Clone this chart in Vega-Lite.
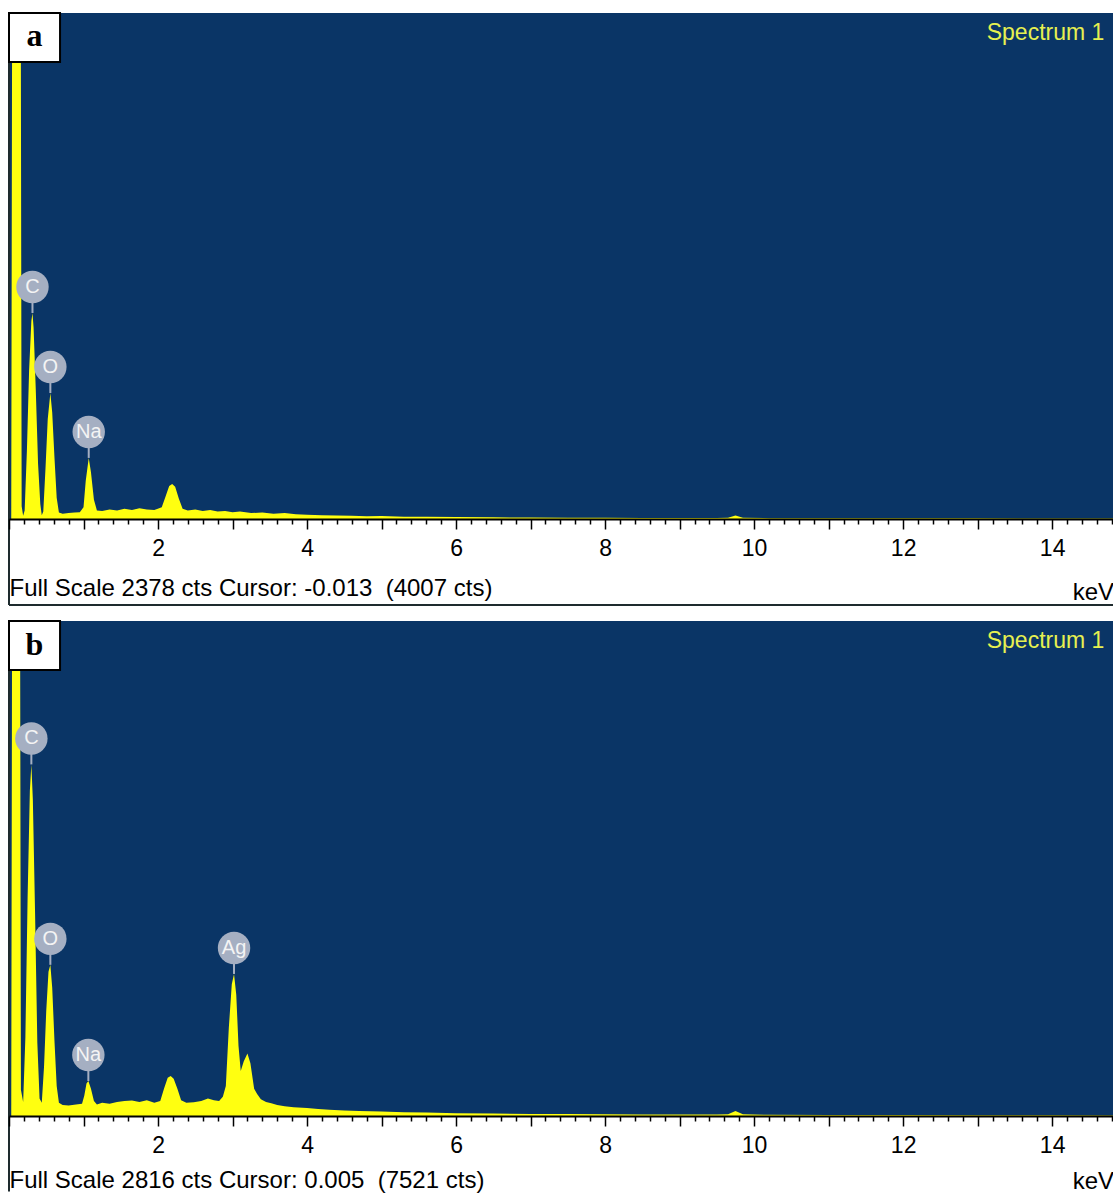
{
  "$schema": "https://vega.github.io/schema/vega-lite/v6.json",
  "padding": {"left": 8, "top": 12, "right": 0, "bottom": 0},
  "background": "white",
  "bounds": "flush",
  "spacing": 102,
  "config": {"view": {"fill": "#0A3566", "stroke": null}, "font": "Liberation Sans"},
  "datasets": {
    "specA": [
      {"keV": 0, "cts": 0}, {"keV": 0.03, "cts": 0}, {"keV": 0.05, "cts": 4000}, {"keV": 0.15, "cts": 4000},
      {"keV": 0.17, "cts": 60}, {"keV": 0.19, "cts": 15}, {"keV": 0.21, "cts": 40}, {"keV": 0.24, "cts": 320},
      {"keV": 0.27, "cts": 700}, {"keV": 0.3, "cts": 930}, {"keV": 0.315, "cts": 968}, {"keV": 0.33, "cts": 900},
      {"keV": 0.36, "cts": 600}, {"keV": 0.39, "cts": 260}, {"keV": 0.42, "cts": 70}, {"keV": 0.44, "cts": 18},
      {"keV": 0.46, "cts": 35}, {"keV": 0.49, "cts": 240}, {"keV": 0.52, "cts": 470}, {"keV": 0.555, "cts": 592},
      {"keV": 0.58, "cts": 500}, {"keV": 0.61, "cts": 290}, {"keV": 0.64, "cts": 100}, {"keV": 0.67, "cts": 30},
      {"keV": 0.72, "cts": 25}, {"keV": 0.8, "cts": 28}, {"keV": 0.88, "cts": 30}, {"keV": 0.95, "cts": 32},
      {"keV": 1.0, "cts": 55}, {"keV": 1.03, "cts": 180}, {"keV": 1.07, "cts": 287}, {"keV": 1.1, "cts": 220},
      {"keV": 1.14, "cts": 90}, {"keV": 1.18, "cts": 40}, {"keV": 1.25, "cts": 38}, {"keV": 1.35, "cts": 45},
      {"keV": 1.45, "cts": 40}, {"keV": 1.55, "cts": 48}, {"keV": 1.65, "cts": 42}, {"keV": 1.75, "cts": 50},
      {"keV": 1.85, "cts": 45}, {"keV": 1.95, "cts": 42}, {"keV": 2.05, "cts": 55}, {"keV": 2.1, "cts": 105},
      {"keV": 2.15, "cts": 155}, {"keV": 2.19, "cts": 165}, {"keV": 2.23, "cts": 152}, {"keV": 2.28, "cts": 95},
      {"keV": 2.33, "cts": 48}, {"keV": 2.4, "cts": 40}, {"keV": 2.5, "cts": 45}, {"keV": 2.6, "cts": 38},
      {"keV": 2.7, "cts": 42}, {"keV": 2.8, "cts": 35}, {"keV": 2.9, "cts": 38}, {"keV": 3.0, "cts": 32},
      {"keV": 3.1, "cts": 35}, {"keV": 3.25, "cts": 28}, {"keV": 3.4, "cts": 30}, {"keV": 3.55, "cts": 25},
      {"keV": 3.7, "cts": 28}, {"keV": 3.85, "cts": 22}, {"keV": 4.0, "cts": 20}, {"keV": 4.2, "cts": 18},
      {"keV": 4.4, "cts": 16}, {"keV": 4.6, "cts": 15}, {"keV": 4.8, "cts": 13}, {"keV": 5.0, "cts": 14},
      {"keV": 5.3, "cts": 11}, {"keV": 5.6, "cts": 10}, {"keV": 6.0, "cts": 9}, {"keV": 6.5, "cts": 8},
      {"keV": 7.0, "cts": 7}, {"keV": 7.5, "cts": 6}, {"keV": 8.0, "cts": 6}, {"keV": 8.5, "cts": 5},
      {"keV": 9.0, "cts": 5}, {"keV": 9.5, "cts": 5}, {"keV": 9.65, "cts": 6}, {"keV": 9.75, "cts": 16},
      {"keV": 9.85, "cts": 6}, {"keV": 10.2, "cts": 4}, {"keV": 11, "cts": 4}, {"keV": 12, "cts": 3},
      {"keV": 13, "cts": 3}, {"keV": 14, "cts": 2}, {"keV": 14.83, "cts": 2}
    ],
    "specB": [
      {"keV": 0, "cts": 0}, {"keV": 0.03, "cts": 0}, {"keV": 0.05, "cts": 5000}, {"keV": 0.14, "cts": 5000},
      {"keV": 0.16, "cts": 150}, {"keV": 0.19, "cts": 80}, {"keV": 0.22, "cts": 450}, {"keV": 0.25, "cts": 1250},
      {"keV": 0.28, "cts": 1850}, {"keV": 0.3, "cts": 2000}, {"keV": 0.32, "cts": 1800}, {"keV": 0.35, "cts": 1150},
      {"keV": 0.38, "cts": 420}, {"keV": 0.41, "cts": 100}, {"keV": 0.44, "cts": 75}, {"keV": 0.47, "cts": 280},
      {"keV": 0.5, "cts": 600}, {"keV": 0.53, "cts": 820}, {"keV": 0.555, "cts": 860}, {"keV": 0.58, "cts": 730},
      {"keV": 0.61, "cts": 430}, {"keV": 0.64, "cts": 170}, {"keV": 0.67, "cts": 75}, {"keV": 0.72, "cts": 62},
      {"keV": 0.8, "cts": 60}, {"keV": 0.9, "cts": 65}, {"keV": 0.98, "cts": 70}, {"keV": 1.01, "cts": 115},
      {"keV": 1.04, "cts": 185}, {"keV": 1.065, "cts": 199}, {"keV": 1.1, "cts": 155}, {"keV": 1.14, "cts": 85},
      {"keV": 1.18, "cts": 65}, {"keV": 1.25, "cts": 75}, {"keV": 1.35, "cts": 70}, {"keV": 1.45, "cts": 80},
      {"keV": 1.55, "cts": 85}, {"keV": 1.65, "cts": 88}, {"keV": 1.75, "cts": 80}, {"keV": 1.85, "cts": 90},
      {"keV": 1.95, "cts": 75}, {"keV": 2.03, "cts": 85}, {"keV": 2.08, "cts": 155}, {"keV": 2.13, "cts": 218},
      {"keV": 2.17, "cts": 228}, {"keV": 2.21, "cts": 212}, {"keV": 2.26, "cts": 155}, {"keV": 2.31, "cts": 90},
      {"keV": 2.38, "cts": 75}, {"keV": 2.48, "cts": 78}, {"keV": 2.58, "cts": 85}, {"keV": 2.67, "cts": 100},
      {"keV": 2.75, "cts": 90}, {"keV": 2.82, "cts": 85}, {"keV": 2.87, "cts": 110}, {"keV": 2.91, "cts": 170},
      {"keV": 2.95, "cts": 500}, {"keV": 2.99, "cts": 750}, {"keV": 3.02, "cts": 808}, {"keV": 3.05, "cts": 690},
      {"keV": 3.08, "cts": 400}, {"keV": 3.11, "cts": 256}, {"keV": 3.15, "cts": 310}, {"keV": 3.2, "cts": 355},
      {"keV": 3.24, "cts": 300}, {"keV": 3.29, "cts": 155}, {"keV": 3.33, "cts": 125}, {"keV": 3.38, "cts": 95},
      {"keV": 3.45, "cts": 80}, {"keV": 3.52, "cts": 72}, {"keV": 3.6, "cts": 62}, {"keV": 3.7, "cts": 55},
      {"keV": 3.82, "cts": 50}, {"keV": 4.0, "cts": 45}, {"keV": 4.15, "cts": 40}, {"keV": 4.3, "cts": 35},
      {"keV": 4.5, "cts": 32}, {"keV": 4.7, "cts": 28}, {"keV": 5.0, "cts": 25}, {"keV": 5.3, "cts": 22},
      {"keV": 5.6, "cts": 20}, {"keV": 6.0, "cts": 16}, {"keV": 6.5, "cts": 14}, {"keV": 7.0, "cts": 12},
      {"keV": 7.5, "cts": 11}, {"keV": 8.0, "cts": 10}, {"keV": 8.5, "cts": 9}, {"keV": 9.0, "cts": 8},
      {"keV": 9.5, "cts": 8}, {"keV": 9.65, "cts": 10}, {"keV": 9.75, "cts": 28}, {"keV": 9.85, "cts": 10},
      {"keV": 10.2, "cts": 7}, {"keV": 11, "cts": 6}, {"keV": 12, "cts": 5}, {"keV": 13, "cts": 4},
      {"keV": 14, "cts": 4}, {"keV": 14.83, "cts": 3}
    ],
    "peaksA": [
      {"el": "C", "keV": 0.315, "cts": 968},
      {"el": "O", "keV": 0.555, "cts": 592},
      {"el": "Na", "keV": 1.07, "cts": 287}
    ],
    "peaksB": [
      {"el": "C", "keV": 0.3, "cts": 2000},
      {"el": "O", "keV": 0.555, "cts": 860},
      {"el": "Na", "keV": 1.065, "cts": 199},
      {"el": "Ag", "keV": 3.02, "cts": 808}
    ]
  },
  "vconcat": [
    {
      "width": 1105,
      "height": 506,
      "layer": [
        {
          "data": {"name": "specA"},
          "mark": {"type": "area", "color": "#FFFF10", "clip": true, "interpolate": "linear"},
          "encoding": {
            "x": {"field": "keV", "type": "quantitative", "scale": {"domain": [0, 14.83], "nice": false, "zero": false},
              "axis": {
                "values": [0,0.2,0.4,0.6,0.8,1,1.2,1.4,1.6,1.8,2,2.2,2.4,2.6,2.8,3,3.2,3.4,3.6,3.8,4,4.2,4.4,4.6,4.8,5,5.2,5.4,5.6,5.8,6,6.2,6.4,6.6,6.8,7,7.2,7.4,7.6,7.8,8,8.2,8.4,8.6,8.8,9,9.2,9.4,9.6,9.8,10,10.2,10.4,10.6,10.8,11,11.2,11.4,11.6,11.8,12,12.2,12.4,12.6,12.8,13,13.2,13.4,13.6,13.8,14,14.2,14.4,14.6,14.8],
                "tickCount": 100,
                "title": "Full Scale 2378 cts Cursor: -0.013 \u00a0(4007 cts)", "titleX": 0, "titleY": 76, "titleAlign": "left", "titleBaseline": "alphabetic", "titleAngle": 0,
                "titleFontSize": 24, "titleFontWeight": "normal", "titleFont": "Liberation Sans", "titleColor": "#000000",
                "labelExpr": "abs(datum.value - round(datum.value)) < 0.01 && round(datum.value) % 2 == 0 && datum.value > 0.5 ? format(round(datum.value), 'd') : ''",
                "labelFontSize": 23, "labelFont": "Liberation Sans", "labelColor": "#000000", "labelPadding": 8,
                "labelFlush": false, "labelOverlap": false, "labelBound": false,
                "tickSize": {"condition": {"test": "abs(datum.value - round(datum.value)) < 0.01", "value": 10}, "value": 5},
                "tickColor": "#000000", "tickWidth": 1.5, "domainColor": "#000000", "domainWidth": 2, "grid": false, "zindex": 1
              }},
            "y": {"field": "cts", "type": "quantitative", "scale": {"domain": [0, 2378], "nice": false, "zero": false}, "axis": null}
          }
        },
        {
          "data": {"values": [{}]},
          "mark": {"type": "rule", "color": "#1E2B2E", "strokeWidth": 2},
          "encoding": {"x": {"datum": 0}, "x2": {"datum": 14.83}, "y": {"datum": -404}}
        },
        {
          "data": {"values": [{}]},
          "mark": {"type": "rule", "color": "#1E2B2E", "strokeWidth": 2},
          "encoding": {"x": {"datum": 0}, "y": {"datum": -404}, "y2": {"datum": 2378}}
        },
        {
          "data": {"values": [{}]},
          "mark": {"type": "text", "text": "keV", "font": "Liberation Sans", "fontSize": 24, "color": "#000000", "align": "right", "baseline": "alphabetic"},
          "encoding": {"x": {"datum": 14.83}, "y": {"datum": -381}}
        },
        {
          "data": {"name": "peaksA"},
          "mark": {"type": "rule", "color": "#A5AFC2", "strokeWidth": 2, "y2Offset": -26},
          "encoding": {"x": {"field": "keV", "type": "quantitative"}, "y": {"field": "cts", "type": "quantitative"}, "y2": {"field": "cts"}}
        },
        {
          "data": {"name": "peaksA"},
          "mark": {"type": "point", "shape": "circle", "filled": true, "size": 1050, "color": "#A5AFC2", "opacity": 1, "yOffset": -26},
          "encoding": {"x": {"field": "keV", "type": "quantitative"}, "y": {"field": "cts", "type": "quantitative"}}
        },
        {
          "data": {"name": "peaksA"},
          "mark": {"type": "text", "color": "#F4F4F4", "fontSize": 20, "font": "Liberation Sans", "yOffset": -26, "align": "center", "baseline": "middle"},
          "encoding": {"x": {"field": "keV", "type": "quantitative"}, "y": {"field": "cts", "type": "quantitative"}, "text": {"field": "el"}}
        },
        {
          "data": {"values": [{}]},
          "mark": {"type": "rect", "fill": "#FFFFFF", "stroke": "#000000", "strokeWidth": 2},
          "encoding": {"x": {"datum": 0}, "x2": {"datum": 0.685}, "y": {"datum": 2378}, "y2": {"datum": 2148}}
        },
        {
          "data": {"values": [{}]},
          "mark": {"type": "text", "text": "a", "font": "Liberation Serif", "fontWeight": "bold", "fontSize": 32, "color": "#000000", "align": "center", "baseline": "middle"},
          "encoding": {"x": {"datum": 0.342}, "y": {"datum": 2268}}
        },
        {
          "data": {"values": [{}]},
          "mark": {"type": "text", "text": "Spectrum 1", "font": "Liberation Sans", "fontSize": 23, "color": "#E6F050", "align": "right", "baseline": "middle"},
          "encoding": {"x": {"datum": 14.7}, "y": {"datum": 2284}}
        }
      ]
    },
    {
      "width": 1105,
      "height": 495,
      "layer": [
        {
          "data": {"name": "specB"},
          "mark": {"type": "area", "color": "#FFFF10", "clip": true, "interpolate": "linear"},
          "encoding": {
            "x": {"field": "keV", "type": "quantitative", "scale": {"domain": [0, 14.83], "nice": false, "zero": false},
              "axis": {
                "values": [0,0.2,0.4,0.6,0.8,1,1.2,1.4,1.6,1.8,2,2.2,2.4,2.6,2.8,3,3.2,3.4,3.6,3.8,4,4.2,4.4,4.6,4.8,5,5.2,5.4,5.6,5.8,6,6.2,6.4,6.6,6.8,7,7.2,7.4,7.6,7.8,8,8.2,8.4,8.6,8.8,9,9.2,9.4,9.6,9.8,10,10.2,10.4,10.6,10.8,11,11.2,11.4,11.6,11.8,12,12.2,12.4,12.6,12.8,13,13.2,13.4,13.6,13.8,14,14.2,14.4,14.6,14.8],
                "tickCount": 100,
                "title": "Full Scale 2816 cts Cursor: 0.005 \u00a0(7521 cts)", "titleX": 0, "titleY": 71, "titleAlign": "left", "titleBaseline": "alphabetic", "titleAngle": 0,
                "titleFontSize": 24, "titleFontWeight": "normal", "titleFont": "Liberation Sans", "titleColor": "#000000",
                "labelExpr": "abs(datum.value - round(datum.value)) < 0.01 && round(datum.value) % 2 == 0 && datum.value > 0.5 ? format(round(datum.value), 'd') : ''",
                "labelFontSize": 23, "labelFont": "Liberation Sans", "labelColor": "#000000", "labelPadding": 8,
                "labelFlush": false, "labelOverlap": false, "labelBound": false,
                "tickSize": {"condition": {"test": "abs(datum.value - round(datum.value)) < 0.01", "value": 10}, "value": 5},
                "tickColor": "#000000", "tickWidth": 1.5, "domainColor": "#000000", "domainWidth": 2, "grid": false, "zindex": 1
              }},
            "y": {"field": "cts", "type": "quantitative", "scale": {"domain": [0, 2816], "nice": false, "zero": false}, "axis": null}
          }
        },
        {
          "data": {"values": [{}]},
          "mark": {"type": "rule", "color": "#1E2B2E", "strokeWidth": 2},
          "encoding": {"x": {"datum": 0}, "y": {"datum": -430}, "y2": {"datum": 2816}}
        },
        {
          "data": {"values": [{}]},
          "mark": {"type": "text", "text": "keV", "font": "Liberation Sans", "fontSize": 24, "color": "#000000", "align": "right", "baseline": "alphabetic"},
          "encoding": {"x": {"datum": 14.83}, "y": {"datum": -415}}
        },
        {
          "data": {"name": "peaksB"},
          "mark": {"type": "rule", "color": "#A5AFC2", "strokeWidth": 2, "y2Offset": -26},
          "encoding": {"x": {"field": "keV", "type": "quantitative"}, "y": {"field": "cts", "type": "quantitative"}, "y2": {"field": "cts"}}
        },
        {
          "data": {"name": "peaksB"},
          "mark": {"type": "point", "shape": "circle", "filled": true, "size": 1050, "color": "#A5AFC2", "opacity": 1, "yOffset": -26},
          "encoding": {"x": {"field": "keV", "type": "quantitative"}, "y": {"field": "cts", "type": "quantitative"}}
        },
        {
          "data": {"name": "peaksB"},
          "mark": {"type": "text", "color": "#F4F4F4", "fontSize": 20, "font": "Liberation Sans", "yOffset": -26, "align": "center", "baseline": "middle"},
          "encoding": {"x": {"field": "keV", "type": "quantitative"}, "y": {"field": "cts", "type": "quantitative"}, "text": {"field": "el"}}
        },
        {
          "data": {"values": [{}]},
          "mark": {"type": "rect", "fill": "#FFFFFF", "stroke": "#000000", "strokeWidth": 2},
          "encoding": {"x": {"datum": 0}, "x2": {"datum": 0.685}, "y": {"datum": 2816}, "y2": {"datum": 2537}}
        },
        {
          "data": {"values": [{}]},
          "mark": {"type": "text", "text": "b", "font": "Liberation Serif", "fontWeight": "bold", "fontSize": 32, "color": "#000000", "align": "center", "baseline": "middle"},
          "encoding": {"x": {"datum": 0.342}, "y": {"datum": 2680}}
        },
        {
          "data": {"values": [{}]},
          "mark": {"type": "text", "text": "Spectrum 1", "font": "Liberation Sans", "fontSize": 23, "color": "#E6F050", "align": "right", "baseline": "middle"},
          "encoding": {"x": {"datum": 14.7}, "y": {"datum": 2702}}
        }
      ]
    }
  ]
}
